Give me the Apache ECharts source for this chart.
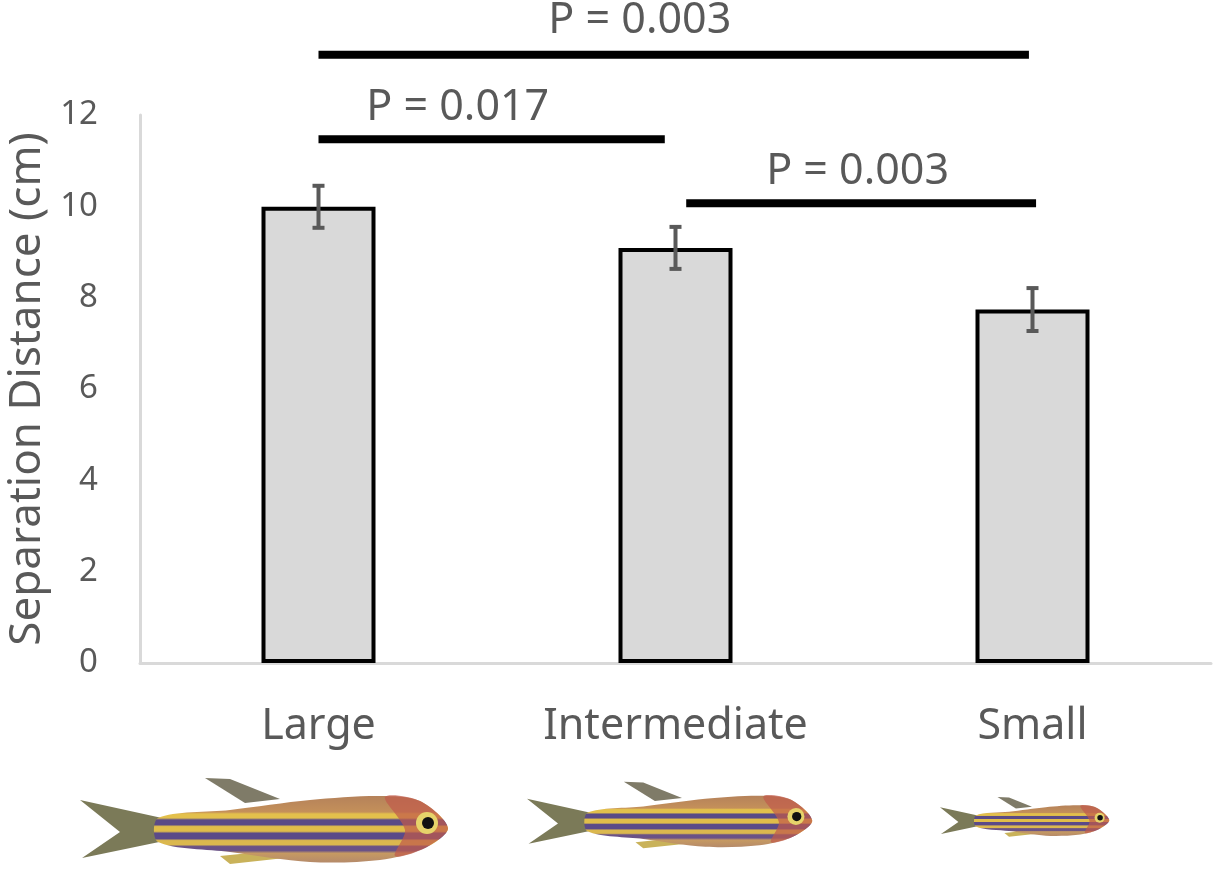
<!DOCTYPE html>
<html>
<head>
<meta charset="utf-8">
<script src="https://cdn.jsdelivr.net/npm/echarts@6/dist/echarts.min.js"></script>
<style>
  html, body { margin: 0; padding: 0; background: #fff; }
  #main { width: 1215px; height: 878px; }
</style>
</head>
<body>
<div id="main"></div>
<script>
// categories and values
var categories = ['Large', 'Intermediate', 'Small'];
var means = [9.99, 9.09, 7.74];
var errors = [0.46, 0.46, 0.47];

// significance brackets (x in category units, y in cm)
var bracketFrom = [0, 0, 1.03];
var bracketTo = [0.97, 1.99, 2.01];
var bracketY = [11.47, 13.32, 10.07];
var pLabels = ['P = 0.017', 'P = 0.003', 'P = 0.003'];
var pLabelX = [0.39, 0.9, 1.51];
var pLabelY = [12.15, 14.07, 10.75];

var textColor = '#595959';
var font = 'Noto Sans';

var chart = echarts.init(document.getElementById('main'));

// simple drawn fish (decoration under the category labels)
function fish(x, y, s) {
  return {
    type: 'group',
    x: x, y: y, scaleX: s, scaleY: s,
    silent: true,
    children: [
      { type: 'polygon', shape: { points: [[125, -52], [150, -51], [200, -31], [165, -27]] },
        style: { fill: '#7f7b68' } },
      { type: 'polygon', shape: { points: [[140, 26], [180, 22], [205, 28], [150, 34]] },
        style: { fill: '#c9b25a' } },
      { type: 'polygon', shape: { points: [[0, -30], [82, -12], [84, 11], [2, 28], [40, 2]] },
        style: { fill: '#7b7a58' } },
      { type: 'polygon', shape: { smooth: 0.3, points: [[78, -12], [150, -20], [230, -30], [300, -34], [340, -29], [368, -2], [345, 18], [300, 30], [230, 32], [150, 22], [78, 12]] },
        style: { fill: new echarts.graphic.LinearGradient(0, 0, 0, 1, [
          { offset: 0, color: '#b5825a' }, { offset: 0.24, color: '#c4905a' },
          { offset: 0.27, color: '#e3c04c' }, { offset: 0.33, color: '#e3c04c' },
          { offset: 0.36, color: '#5a4a86' }, { offset: 0.43, color: '#5a4a86' },
          { offset: 0.46, color: '#e0bd4a' }, { offset: 0.53, color: '#e0bd4a' },
          { offset: 0.56, color: '#5b4a88' }, { offset: 0.64, color: '#5b4a88' },
          { offset: 0.67, color: '#dbb84e' }, { offset: 0.73, color: '#dbb84e' },
          { offset: 0.76, color: '#6a5286' }, { offset: 0.82, color: '#6a5286' },
          { offset: 0.86, color: '#c69a62' }, { offset: 1, color: '#b58a6a' }
        ]) } },
      { type: 'polygon', shape: { smooth: 0.3, points: [[305, -33], [340, -29], [368, -2], [345, 18], [315, 26], [325, 0]] },
        style: { fill: '#c05a4a', opacity: 0.7 } },
      { type: 'circle', shape: { cx: 347, cy: -7, r: 11 }, style: { fill: '#e6d36a' } },
      { type: 'circle', shape: { cx: 348, cy: -7, r: 6 }, style: { fill: '#111' } }
    ]
  };
}

var bracketSeries = bracketY.map(function (y, i) {
  return {
    type: 'line',
    xAxisIndex: 1,
    clip: false,
    symbol: 'none',
    silent: true,
    lineStyle: { color: '#000', width: 8, cap: 'butt' },
    data: [[bracketFrom[i], y], [bracketTo[i], y]],
    z: 5
  };
});

chart.setOption({
  animation: false,
  textStyle: { fontFamily: font },
  grid: { left: 140, right: 4, top: 115, bottom: 215, containLabel: false, outerBoundsMode: 'none' },
  xAxis: [{
    type: 'category',
    data: categories,
    axisLine: { onZero: false, lineStyle: { color: '#d9d9d9', width: 3 } },
    axisTick: { show: false },
    axisLabel: { color: textColor, fontSize: 43, margin: 42, fontFamily: font }
  }, {
    type: 'value',
    min: -0.5,
    max: 2.5,
    show: false
  }],
  yAxis: {
    type: 'value',
    min: 0,
    max: 12,
    interval: 2,
    name: 'Separation Distance (cm)',
    nameLocation: 'middle',
    nameGap: 88,
    nameTextStyle: { color: textColor, fontSize: 44, fontFamily: font },
    axisLine: { show: true, onZero: false, lineStyle: { color: '#d9d9d9', width: 3 } },
    axisTick: { show: false },
    splitLine: { show: false },
    axisLabel: { color: textColor, fontSize: 33, margin: 42, fontFamily: font }
  },
  series: [{
    type: 'bar',
    data: means,
    barWidth: 114,
    itemStyle: { color: '#d9d9d9', borderColor: '#000', borderWidth: 4 },
    silent: true
  }, {
    type: 'custom',
    silent: true,
    data: means.map(function (m, i) { return [i, m - errors[i], m + errors[i]]; }),
    renderItem: function (params, api) {
      var lo = api.coord([api.value(0), api.value(1)]);
      var hi = api.coord([api.value(0), api.value(2)]);
      var st = { stroke: '#595959', lineWidth: 4 };
      return {
        type: 'group',
        children: [
          { type: 'line', shape: { x1: hi[0], y1: hi[1], x2: lo[0], y2: lo[1] }, style: st },
          { type: 'line', shape: { x1: hi[0] - 6, y1: hi[1], x2: hi[0] + 6, y2: hi[1] }, style: st },
          { type: 'line', shape: { x1: lo[0] - 6, y1: lo[1], x2: lo[0] + 6, y2: lo[1] }, style: st }
        ]
      };
    },
    z: 4
  }].concat(bracketSeries).concat([{
    type: 'scatter',
    xAxisIndex: 1,
    clip: false,
    symbolSize: 0,
    silent: true,
    itemStyle: { opacity: 1 },
    data: pLabelX.map(function (x, i) { return [x, pLabelY[i]]; }),
    label: {
      show: true,
      position: 'inside',
      color: textColor,
      fontSize: 43,
      fontFamily: font,
      formatter: function (p) { return pLabels[p.dataIndex]; }
    }
  }]),
  graphic: [fish(80, 830, 1), fish(527, 822, 0.775), fish(940, 821, 0.46)]
});
</script>
</body>
</html>
